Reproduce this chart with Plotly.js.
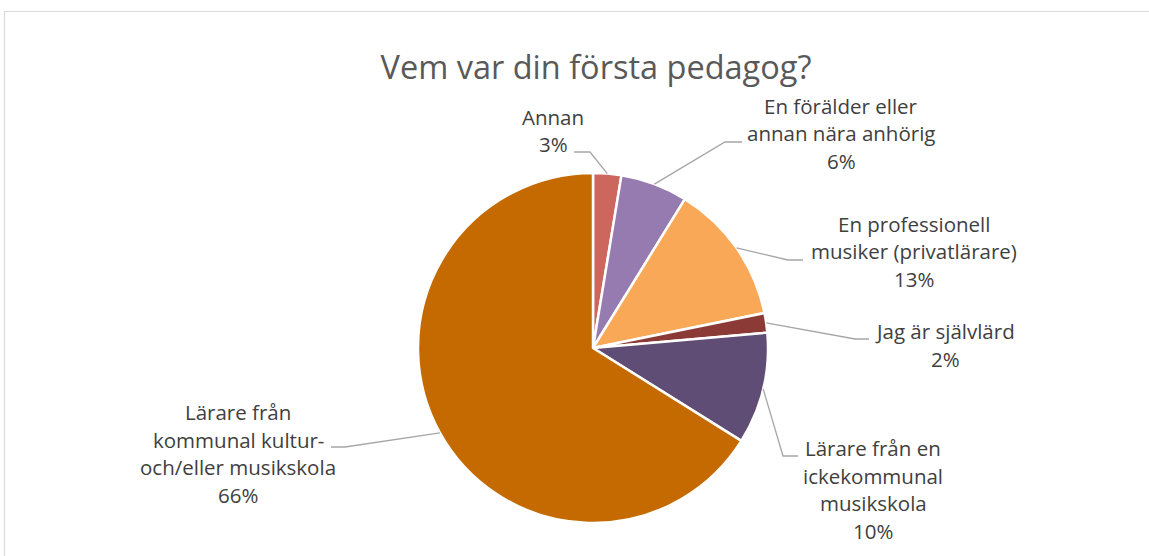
<!DOCTYPE html>
<html>
<head>
<meta charset="utf-8">
<script src="https://cdn.plot.ly/plotly-3.0.1.min.js"></script>
<style>
  body { margin: 0; background: #fff; }
  #chart { width: 1149px; height: 556px; }
</style>
</head>
<body>
<div id="chart"></div>
<script>
var labels = [
  "Annan",
  "En förälder eller<br>annan nära anhörig",
  "En professionell<br>musiker (privatlärare)",
  "Jag är självlärd",
  "Lärare från en<br>ickekommunal<br>musikskola",
  "Lärare från<br>kommunal kultur-<br>och/eller musikskola"
];
var values = [2.6, 6.2, 13.0, 1.8, 10.3, 66.1];
var colors = ["#CD665C", "#957BB0", "#F9A857", "#8B3A35", "#604D75", "#C46A00"];

// pie placement in pixels
var W = 1149, H = 556;
var cx = 593, cy = 348, r = 175;

// label placement (center x, first line y) and leader elbows
var labelPos = [
  { x: 553, y: 116.5, elbow: [590, 152], end: [574, 152] },
  { x: 841, y: 106, elbow: [725, 142], end: [742, 142] },
  { x: 914, y: 224, elbow: [788, 260], end: [803, 260] },
  { x: 945, y: 331, elbow: [855, 339], end: [869, 339] },
  { x: 873, y: 448, elbow: [783, 456], end: [798, 456] },
  { x: 238, y: 412, elbow: [345, 447], end: [331, 447] }
];
var lineStep = 27.5;

function px(x) { return x / W; }
function py(y) { return 1 - y / H; }

var total = values.reduce(function (a, b) { return a + b; }, 0);

var trace = {
  type: "pie",
  labels: labels,
  values: values,
  sort: false,
  direction: "clockwise",
  rotation: 0,
  textinfo: "none",
  hoverinfo: "label+percent",
  marker: { colors: colors, line: { color: "#ffffff", width: 2.5 } },
  domain: { x: [px(cx - r), px(cx + r)], y: [py(cy + r), py(cy - r)] },
  showlegend: false
};

var annotations = [];
var shapes = [];
var cum = 0;
values.forEach(function (v, i) {
  var mid = (cum + v / 2) / total * 2 * Math.PI;
  cum += v;
  var ex = cx + r * Math.sin(mid);
  var ey = cy - r * Math.cos(mid);
  var p = labelPos[i];
  shapes.push({
    type: "path", xref: "paper", yref: "paper",
    path: "M " + px(ex) + "," + py(ey) + " L " + px(p.elbow[0]) + "," + py(p.elbow[1]) +
          " L " + px(p.end[0]) + "," + py(p.end[1]),
    line: { color: "#A6A6A6", width: 1.3 }
  });
  var lines = labels[i].split("<br>");
  lines.push(Math.round(v / total * 100) + "%");
  lines.forEach(function (t, k) {
    annotations.push({
      xref: "paper", yref: "paper",
      x: px(p.x), y: py(p.y + k * lineStep),
      xanchor: "center", yanchor: "middle",
      text: t, showarrow: false,
      font: { family: "Open Sans", size: 20.5, color: "#404040" }
    });
  });
});

// chart frame
shapes.push({
  type: "path", xref: "paper", yref: "paper",
  path: "M " + px(4.5) + "," + py(560) + " L " + px(4.5) + "," + py(11.5) + " L " + px(1160) + "," + py(11.5),
  line: { color: "#D9D9D9", width: 1.2 }
});

var layout = {
  width: W,
  height: H,
  margin: { l: 0, r: 0, t: 0, b: 0 },
  paper_bgcolor: "#ffffff",
  title: {
    text: "Vem var din första pedagog?",
    x: 596 / W, xanchor: "center",
    y: py(68), yanchor: "middle",
    font: { family: "Open Sans", size: 32.5, color: "#595959" }
  },
  annotations: annotations,
  shapes: shapes
};

Plotly.newPlot("chart", [trace], layout, { displayModeBar: false, staticPlot: true });
</script>
</body>
</html>
